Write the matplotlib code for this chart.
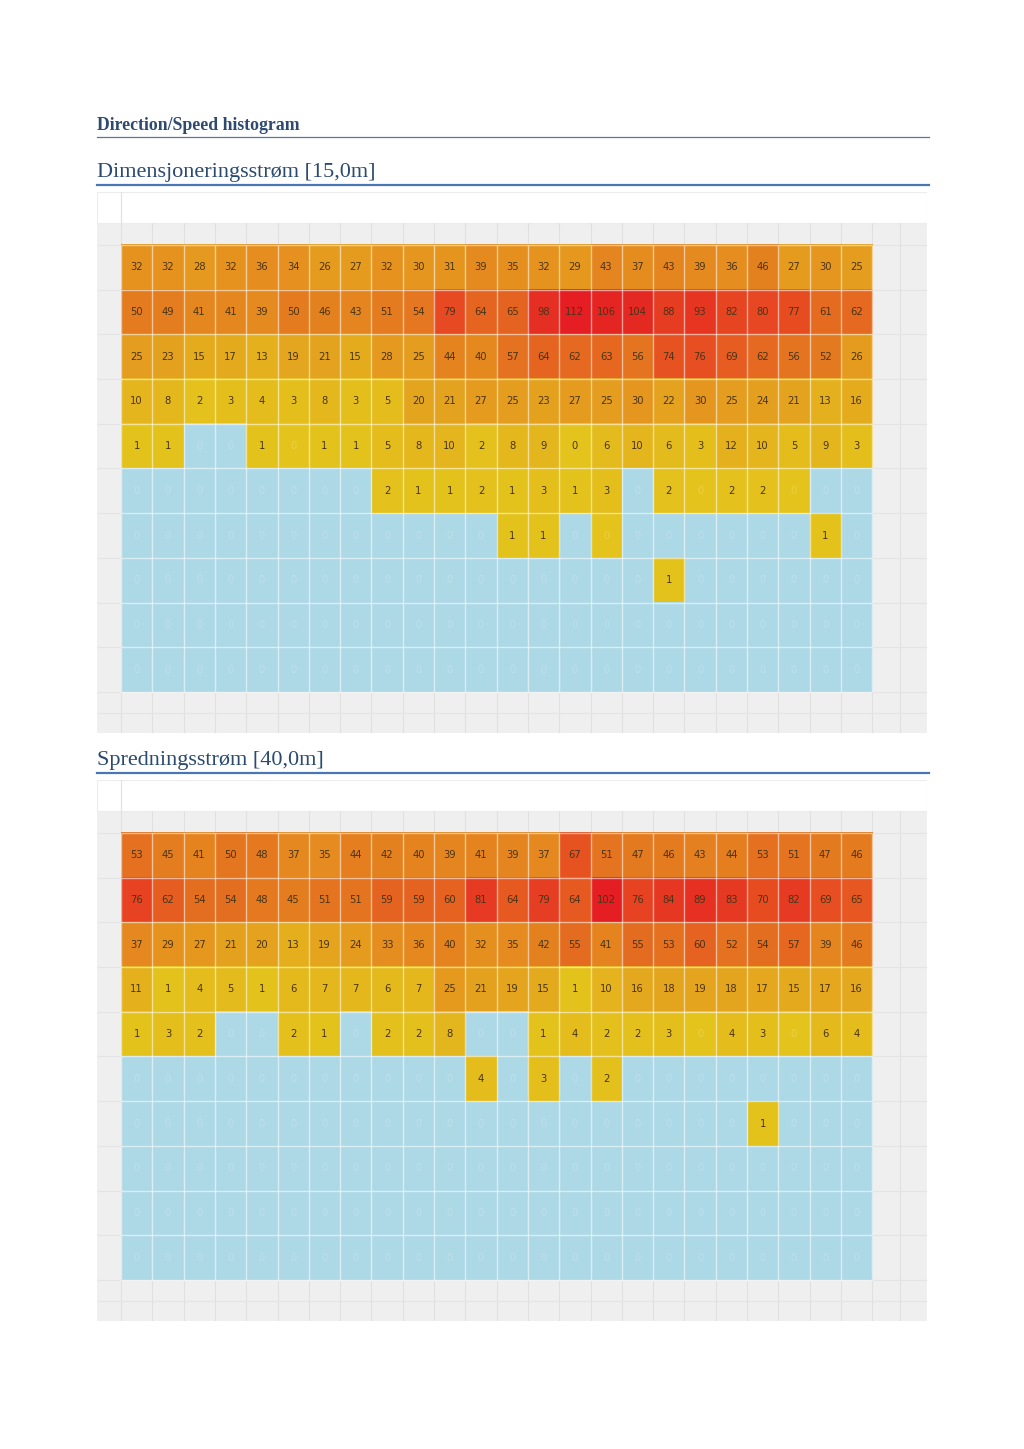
import numpy as np
import matplotlib
matplotlib.use("Agg")
import matplotlib.pyplot as plt
from matplotlib.colors import LinearSegmentedColormap

W, H = 1024, 1449

# direction (24 sectors) x speed class (10 rows) counts
counts_15m = np.array([
    [32, 32, 28, 32, 36, 34, 26, 27, 32, 30, 31, 39, 35, 32, 29, 43, 37, 43, 39, 36, 46, 27, 30, 25],
    [50, 49, 41, 41, 39, 50, 46, 43, 51, 54, 79, 64, 65, 98, 112, 106, 104, 88, 93, 82, 80, 77, 61, 62],
    [25, 23, 15, 17, 13, 19, 21, 15, 28, 25, 44, 40, 57, 64, 62, 63, 56, 74, 76, 69, 62, 56, 52, 26],
    [10, 8, 2, 3, 4, 3, 8, 3, 5, 20, 21, 27, 25, 23, 27, 25, 30, 22, 30, 25, 24, 21, 13, 16],
    [1, 1, 0, 0, 1, 0, 1, 1, 5, 8, 10, 2, 8, 9, 0, 6, 10, 6, 3, 12, 10, 5, 9, 3],
    [0, 0, 0, 0, 0, 0, 0, 0, 2, 1, 1, 2, 1, 3, 1, 3, 0, 2, 0, 2, 2, 0, 0, 0],
    [0, 0, 0, 0, 0, 0, 0, 0, 0, 0, 0, 0, 1, 1, 0, 0, 0, 0, 0, 0, 0, 0, 1, 0],
    [0, 0, 0, 0, 0, 0, 0, 0, 0, 0, 0, 0, 0, 0, 0, 0, 0, 1, 0, 0, 0, 0, 0, 0],
    [0] * 24,
    [0] * 24,
])
# cells coloured as non-zero but with no readable count
trace_15m = [(4, 5), (5, 18), (5, 21), (6, 15)]
zero_shown_15m = [(4, 14)]

counts_40m = np.array([
    [53, 45, 41, 50, 48, 37, 35, 44, 42, 40, 39, 41, 39, 37, 67, 51, 47, 46, 43, 44, 53, 51, 47, 46],
    [76, 62, 54, 54, 48, 45, 51, 51, 59, 59, 60, 81, 64, 79, 64, 102, 76, 84, 89, 83, 70, 82, 69, 65],
    [37, 29, 27, 21, 20, 13, 19, 24, 33, 36, 40, 32, 35, 42, 55, 41, 55, 53, 60, 52, 54, 57, 39, 46],
    [11, 1, 4, 5, 1, 6, 7, 7, 6, 7, 25, 21, 19, 15, 1, 10, 16, 18, 19, 18, 17, 15, 17, 16],
    [1, 3, 2, 0, 0, 2, 1, 0, 2, 2, 8, 0, 0, 1, 4, 2, 2, 3, 0, 4, 3, 0, 6, 4],
    [0, 0, 0, 0, 0, 0, 0, 0, 0, 0, 0, 4, 0, 3, 0, 2, 0, 0, 0, 0, 0, 0, 0, 0],
    [0, 0, 0, 0, 0, 0, 0, 0, 0, 0, 0, 0, 0, 0, 0, 0, 0, 0, 0, 0, 1, 0, 0, 0],
    [0] * 24,
    [0] * 24,
    [0] * 24,
])
trace_40m = [(4, 18), (4, 21)]
zero_shown_40m = []

titles = ["Dimensjoneringsstrøm [15,0m]", "Spredningsstrøm [40,0m]"]

heat = LinearSegmentedColormap.from_list("heat", [
    (0.00, "#e4c41c"), (0.15, "#e4aa1e"), (0.30, "#e6911f"),
    (0.50, "#e47520"), (0.70, "#e84a22"), (1.00, "#e41e22")])
BLUE = "#add8e6"
GRAY = "#efefef"
CW, RH = 31.3, 44.75  # cell size in px


def fx(x):
    return x / W


def fy(y):
    return 1 - y / H


fig = plt.figure(figsize=(W / 100, H / 100), dpi=100)
fig.patch.set_facecolor("white")

fig.text(fx(97), fy(126), "Direction/Speed histogram", fontsize=12.8, fontweight="bold",
         family="Liberation Serif", color="#2f4a6e", va="center")
fig.add_artist(plt.Line2D([fx(97), fx(929)], [fy(137), fy(137)], color="#5b7594", lw=0.9))


def draw_chart(head_y, counts, trace, zero_shown, title):
    fig.text(fx(97), fy(head_y), title, fontsize=16, family="Liberation Serif",
             color="#2b4a70", va="center")
    fig.add_artist(plt.Line2D([fx(97), fx(929)], [fy(head_y + 13), fy(head_y + 13)],
                              color="#4a77b4", lw=1.6))
    top = head_y + 20          # panel top, px
    x_left = (97 - 121) / CW
    x_right = (927 - 121) / CW
    y_top = -53 / RH
    y_bot = 10 + 41 / RH
    ax = fig.add_axes([fx(97), fy(top + 541), 830 / W, 541 / H])
    ax.set_xlim(x_left, x_right)
    ax.set_ylim(y_bot, y_top)
    ax.axis("off")

    gray_top = -22 / RH
    ax.axhspan(gray_top, y_bot, color=GRAY, zorder=0)
    ax.axhspan(y_top, gray_top, facecolor="white", edgecolor="#ececec", lw=0.8, zorder=0)
    ax.vlines(0, y_top, gray_top, color="#e2e2e2", lw=0.9, zorder=1)

    # background grid of the panel
    xs = list(range(25)) + [(900 - 121) / CW]
    ax.vlines(xs, gray_top, y_bot, color="#e0e0e0", lw=0.8, zorder=1)
    ys = list(range(11)) + [(713 - 245) / RH]
    ax.hlines(ys, x_left, x_right, color="#e4e4e4", lw=0.8, zorder=1)

    vmax = counts.max()
    rgb = np.zeros(counts.shape + (4,))
    nrow, ncol = counts.shape
    for r in range(nrow):
        for c in range(ncol):
            v = counts[r, c]
            if v > 0 or (r, c) in trace or (r, c) in zero_shown:
                rgb[r, c] = heat(v / vmax)
            else:
                rgb[r, c] = matplotlib.colors.to_rgba(BLUE)
    ax.imshow(rgb, extent=(0, ncol, nrow, 0), aspect="auto", interpolation="nearest", zorder=2)
    ax.vlines(range(ncol + 1), 0, nrow, color="white", lw=1.0, alpha=0.55, zorder=3)
    ax.hlines(range(nrow + 1), 0, ncol, color="white", lw=1.0, alpha=0.55, zorder=3)

    for r in range(nrow):
        for c in range(ncol):
            v = counts[r, c]
            if v > 0 or (r, c) in zero_shown:
                ax.text(c + 0.5, r + 0.5, str(v), ha="center", va="center", fontsize=7.2,
                        color="#4a3418", zorder=4)
            else:
                ax.text(c + 0.5, r + 0.5, "0", ha="center", va="center", fontsize=7.2,
                        color="white", alpha=0.2, zorder=4)


draw_chart(172, counts_15m, trace_15m, zero_shown_15m, titles[0])
draw_chart(760, counts_40m, trace_40m, zero_shown_40m, titles[1])

fig.savefig("out.png", dpi=100)
